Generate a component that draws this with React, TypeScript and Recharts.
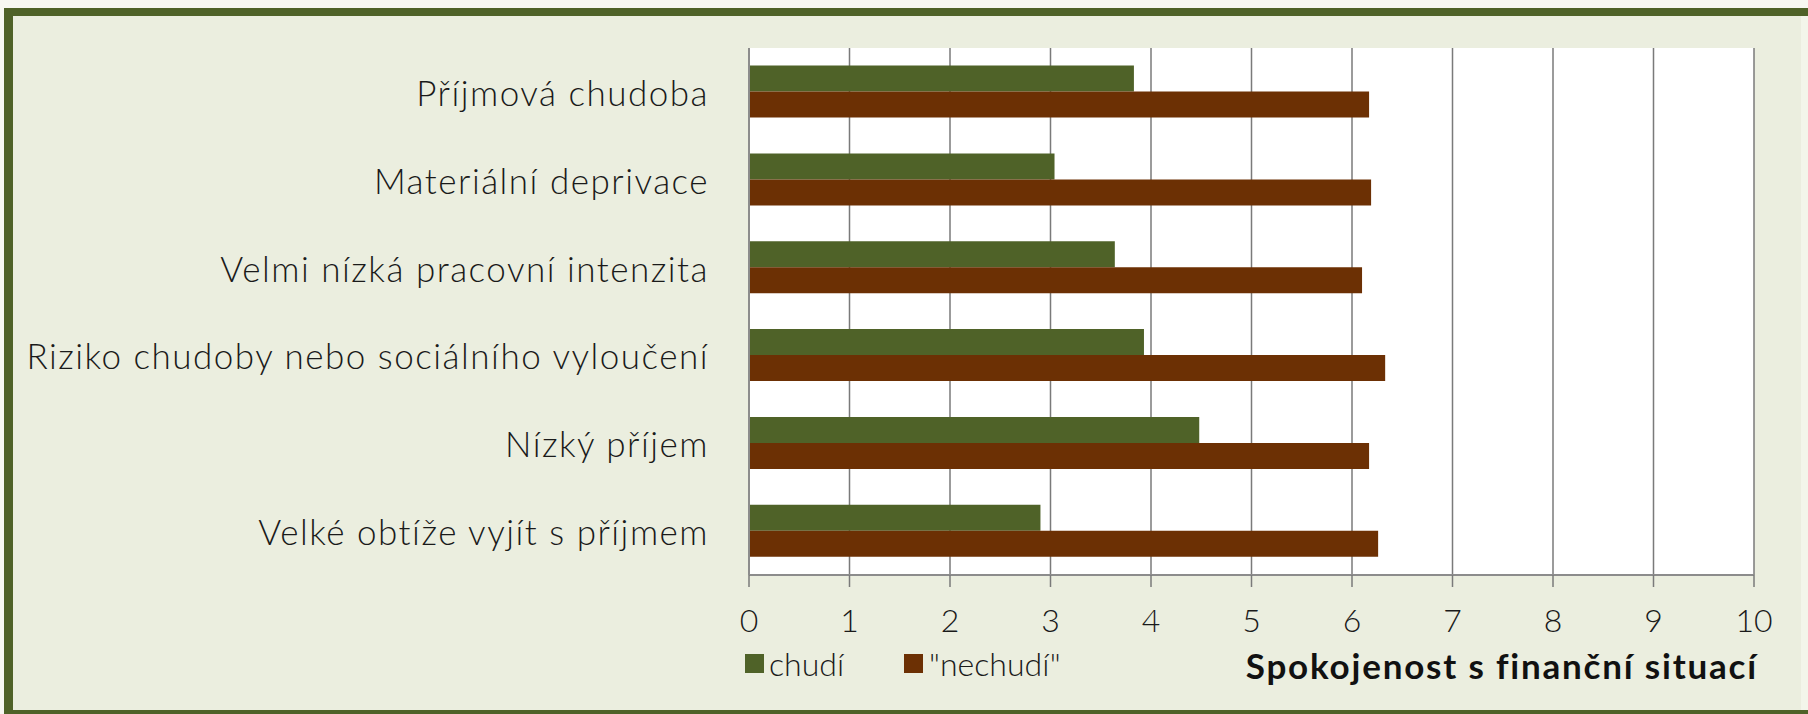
import React from 'react';
import { BarChart, Bar, XAxis, YAxis, CartesianGrid, Legend } from 'recharts';

const categories = [
    'Příjmová chudoba',
    'Materiální deprivace',
    'Velmi nízká pracovní intenzita',
    'Riziko chudoby nebo sociálního vyloučení',
    'Nízký příjem',
    'Velké obtíže vyjít s příjmem',
];
const chudi = [3.83, 3.04, 3.64, 3.93, 4.48, 2.9];
const nechudi = [6.17, 6.19, 6.1, 6.33, 6.17, 6.26];
const xTicks = [0, 1, 2, 3, 4, 5, 6, 7, 8, 9, 10];
const bandTicks = [0, 1, 2, 3, 4, 5, 6];
const seriesNames = ['chudí', '"nechudí"'];
const axisTitle = 'Spokojenost s finanční situací';

const GREEN = '#4f6228';
const BROWN = '#6c3004';
const FONT = 'Lato, "Open Sans", sans-serif';

const data = categories.map((name, i) => ({ name, chudi: chudi[i], nechudi: nechudi[i] }));

const CategoryTick = (props: any) => {
    const { x, y, payload } = props;
    return (
        <text x={x} y={y} textAnchor="end" dominantBaseline="central" fontFamily={FONT} fontWeight={300} fontSize={35} letterSpacing={1.5} fill="#1a1a1a">
            {payload.value}
        </text>
    );
};

const renderLegend = () => (
    <div style={{ display: 'flex', alignItems: 'center', height: 34, fontFamily: FONT, fontWeight: 300, fontSize: 32, color: '#1a1a1a' }}>
        <span style={{ width: 19, height: 19, background: GREEN, marginRight: 5 }} />
        <span style={{ marginRight: 60 }}>{seriesNames[0]}</span>
        <span style={{ width: 19, height: 19, background: BROWN, marginRight: 6 }} />
        <span>{seriesNames[1]}</span>
    </div>
);

const AxisTitle = (props: any) => {
    const { viewBox } = props;
    return (
        <text x={viewBox.x + viewBox.width + 4} y={viewBox.y + 104} textAnchor="end" fontFamily={FONT} fontWeight={700} fontSize={35} letterSpacing={1.8} fill="#111">
            {axisTitle}
        </text>
    );
};

export default function App() {
    return (
        <div style={{ position: 'relative', width: 1808, height: 714, background: '#f7f8f2', overflow: 'hidden' }}>
            <style>{'body{margin:0}'}</style>
            <div
                style={{
                    position: 'absolute',
                    left: 4,
                    top: 8,
                    width: 1804,
                    height: 714 - 8,
                    boxSizing: 'border-box',
                    borderLeft: '9px solid #4f6228',
                    borderTop: '8px solid #4f6228',
                    borderBottom: '4px solid #4f6228',
                    background: '#ebeedf',
                }}
            />
            <div style={{ position: 'absolute', left: 1801, top: 16, width: 7, height: 694, background: '#f3f6ea' }} />
            <div style={{ position: 'absolute', left: 0, top: 0 }}>
                <BarChart
                    width={1808}
                    height={714}
                    data={data}
                    layout="vertical"
                    margin={{ top: 48, right: 54, left: 0, bottom: 29 }}
                    barCategoryGap="20%"
                    barGap={0}
                >
                    <CartesianGrid yAxisId="cat" horizontal={false} vertical stroke="#7a7a7a" strokeWidth={1.5} fill="#ffffff" />
                    <XAxis
                        type="number"
                        domain={[0, 10]}
                        ticks={xTicks}
                        interval={0}
                        axisLine={{ stroke: '#8c8c8c', strokeWidth: 2 }}
                        tickLine={{ stroke: '#7a7a7a', strokeWidth: 1.5 }}
                        tickSize={12}
                        tickMargin={22}
                        height={76}
                        tick={{ fontFamily: FONT, fontWeight: 300, fontSize: 32, fill: '#1a1a1a' }}
                        label={<AxisTitle />}
                    />
                    <YAxis
                        yAxisId="bands"
                        type="number"
                        domain={[0, 6]}
                        ticks={bandTicks}
                        interval={0}
                        tick={false}
                        tickSize={12}
                        tickLine={{ stroke: '#7a7a7a', strokeWidth: 1.5 }}
                        axisLine={{ stroke: '#8c8c8c', strokeWidth: 2 }}
                        width={12}
                    />
                    <YAxis
                        yAxisId="cat"
                        type="category"
                        dataKey="name"
                        width={737}
                        axisLine={false}
                        tickLine={false}
                        tickSize={0}
                        tickMargin={28}
                        interval={0}
                        tick={<CategoryTick />}
                    />
                    <Legend verticalAlign="bottom" align="left" content={renderLegend} wrapperStyle={{ left: 745, bottom: 34, width: 'auto' }} />
                    <Bar yAxisId="cat" dataKey="chudi" name={seriesNames[0]} fill={GREEN} isAnimationActive={false} />
                    <Bar yAxisId="cat" dataKey="nechudi" name={seriesNames[1]} fill={BROWN} isAnimationActive={false} />
                </BarChart>
            </div>
        </div>
    );
}
